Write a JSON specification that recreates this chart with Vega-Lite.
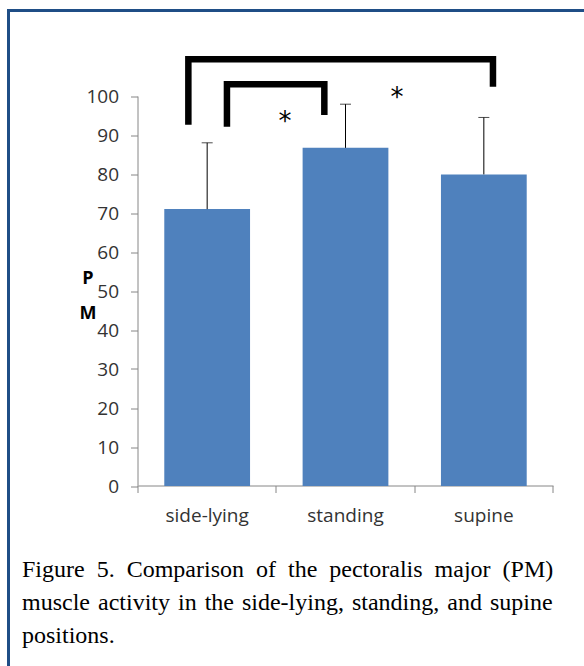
{
  "$schema": "https://vega.github.io/schema/vega-lite/v6.json",
  "width": 650,
  "height": 665.5,
  "autosize": {"type": "none"},
  "padding": {"left": 8.5, "top": 10.5, "right": -74.5, "bottom": -10},
  "background": "white",
  "config": {
    "view": {"stroke": "#1F4E86", "strokeWidth": 3},
    "axis": {
      "domainColor": "#868686",
      "tickColor": "#868686",
      "labelColor": "#333333",
      "labelFont": "Open Sans",
      "labelFontSize": 19,
      "grid": false
    }
  },
  "title": {
    "text": [
      "Figure \u00a05. \u00a0Comparison \u00a0of \u00a0the \u00a0pectoralis \u00a0major \u00a0(PM)",
      "muscle \u200aactivity \u200ain \u200athe \u200aside-lying, \u200astanding, \u200aand \u200asupine",
      "positions."
    ],
    "orient": "bottom",
    "anchor": "start",
    "frame": "group",
    "offset": -118,
    "dx": 13.5,
    "font": "Liberation Serif",
    "fontSize": 24,
    "fontWeight": "normal",
    "color": "#000000",
    "lineHeight": 33
  },
  "datasets": {
    "bars": [
      {"position": "side-lying", "mean": 71.0, "upper": 88.0},
      {"position": "standing", "mean": 86.7, "upper": 97.9},
      {"position": "supine", "mean": 79.9, "upper": 94.5}
    ],
    "brackets": [
      {"bracket": "A", "order": 1, "x": 0.364, "y": 92.6},
      {"bracket": "A", "order": 2, "x": 0.364, "y": 109.4},
      {"bracket": "A", "order": 3, "x": 2.566, "y": 109.4},
      {"bracket": "A", "order": 4, "x": 2.566, "y": 102.4},
      {"bracket": "B", "order": 1, "x": 0.643, "y": 92.1},
      {"bracket": "B", "order": 2, "x": 0.643, "y": 103.0},
      {"bracket": "B", "order": 3, "x": 1.347, "y": 103.0},
      {"bracket": "B", "order": 4, "x": 1.347, "y": 95.1}
    ],
    "stars": [
      {"x": 1.063, "y": 94.9, "label": "*"},
      {"x": 1.872, "y": 101.1, "label": "*"}
    ]
  },
  "layer": [
    {
      "data": {"name": "bars"},
      "encoding": {
        "x": {
          "field": "position",
          "type": "nominal",
          "sort": null,
          "scale": {"range": [129.5, 544.5], "paddingInner": 0, "paddingOuter": 0},
          "axis": {
            "title": null,
            "labelAngle": 0,
            "bandPosition": 1,
            "tickExtra": true,
            "tickSize": 7,
            "labelPadding": 14,
            "offset": -190.5
          }
        }
      },
      "layer": [
        {
          "mark": {"type": "bar", "color": "#4F81BD", "width": {"band": 0.62}},
          "encoding": {
            "y": {
              "field": "mean",
              "type": "quantitative",
              "scale": {"domain": [0, 100], "range": [475.5, 85.5], "nice": false, "zero": true},
              "axis": {
                "values": [0, 10, 20, 30, 40, 50, 60, 70, 80, 90, 100],
                "offset": -129,
                "tickSize": 7,
                "labelPadding": 12,
                "title": ["P", "M"],
                "titleAngle": 0,
                "titleFont": "Open Sans",
                "titleFontSize": 18,
                "titleFontWeight": "bold",
                "titleColor": "#000000",
                "titleAlign": "center",
                "titleBaseline": "middle",
                "titleLineHeight": 35,
                "titleX": -50,
                "titleY": 268
              }
            }
          }
        },
        {
          "mark": {"type": "rule", "color": "#000000", "strokeWidth": 1},
          "encoding": {
            "y": {"field": "mean", "type": "quantitative", "scale": {"domain": [0, 100]}},
            "y2": {"field": "upper"}
          }
        },
        {
          "mark": {"type": "tick", "color": "#000000", "thickness": 1, "size": 11},
          "encoding": {
            "y": {"field": "upper", "type": "quantitative", "scale": {"domain": [0, 100]}}
          }
        }
      ]
    },
    {
      "data": {"name": "brackets"},
      "mark": {"type": "line", "color": "#000000", "strokeWidth": 6.5, "strokeCap": "butt", "strokeJoin": "miter"},
      "encoding": {
        "x": {"field": "x", "type": "quantitative", "scale": {"domain": [0, 3], "range": [129.5, 544.5], "nice": false, "zero": false}, "axis": null},
        "y": {"field": "y", "type": "quantitative", "scale": {"domain": [0, 100]}},
        "detail": {"field": "bracket"},
        "order": {"field": "order"}
      }
    },
    {
      "data": {"name": "stars"},
      "mark": {"type": "text", "font": "DejaVu Sans", "fontSize": 26, "color": "#000000", "baseline": "alphabetic", "align": "center", "dy": 14},
      "encoding": {
        "x": {"field": "x", "type": "quantitative", "scale": {"domain": [0, 3], "range": [129.5, 544.5], "nice": false, "zero": false}, "axis": null},
        "y": {"field": "y", "type": "quantitative", "scale": {"domain": [0, 100]}},
        "text": {"field": "label"}
      }
    }
  ],
  "resolve": {"scale": {"x": "independent"}}
}
